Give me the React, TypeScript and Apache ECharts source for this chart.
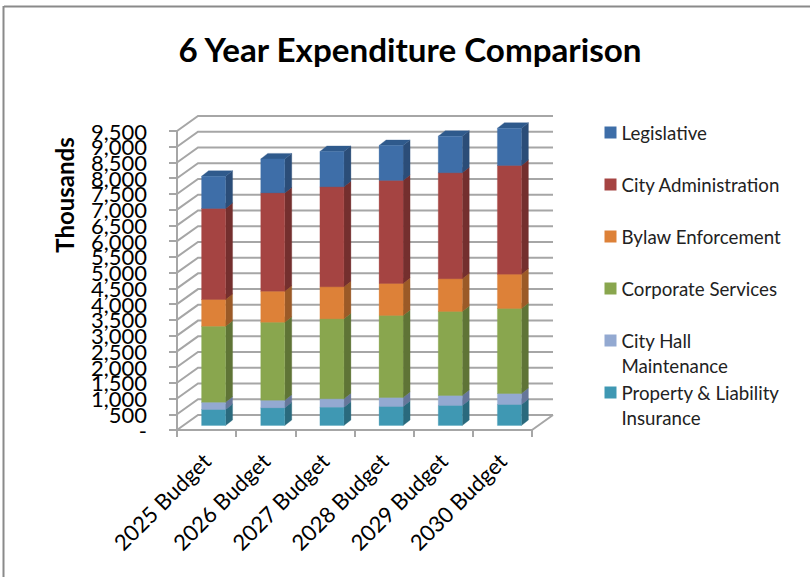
import React, { useEffect, useRef } from "react";
import * as echarts from "echarts";

const categories = ["2025 Budget", "2026 Budget", "2027 Budget", "2028 Budget", "2029 Budget", "2030 Budget"];
const insurance = [508, 560, 583, 604, 636, 667];
const maintenance = [232, 243, 265, 286, 318, 350];
const corporate = [2415, 2478, 2542, 2606, 2669, 2701];
const bylaw = [848, 985, 1017, 1017, 1038, 1091];
const cityAdmin = [2892, 3125, 3178, 3273, 3368, 3453];
const legislative = [1026, 1080, 1123, 1112, 1165, 1186];
const yTicks = [0, 500, 1000, 1500, 2000, 2500, 3000, 3500, 4000, 4500, 5000, 5500, 6000, 6500, 7000, 7500, 8000, 8500, 9000, 9500];
const yTickLabels = ["-", "500", "1,000", "1,500", "2,000", "2,500", "3,000", "3,500", "4,000", "4,500", "5,000", "5,500", "6,000", "6,500", "7,000", "7,500", "8,000", "8,500", "9,000", "9,500"];

const stackOrder = [
  { name: "Property & Liability Insurance", values: insurance, front: "#3f98b3", side: "#2a6a7d", top: "#35809a" },
  { name: "City Hall Maintenance", values: maintenance, front: "#93a9d1", side: "#66769a", top: "#7d90b5" },
  { name: "Corporate Services", values: corporate, front: "#89a64e", side: "#5f7436", top: "#76904a" },
  { name: "Bylaw Enforcement", values: bylaw, front: "#dd8138", side: "#9b5a27", top: "#c07030" },
  { name: "City Administration", values: cityAdmin, front: "#a54442", side: "#742f2e", top: "#8e3a38" },
  { name: "Legislative", values: legislative, front: "#3e6ea8", side: "#2b4d78", top: "#2f5a8c" },
];

const FONT = "Lato";
const GRID = "#a6a6a6";
const DEPTH_X = 21;
const DEPTH_Y = 15;
const BAR_W = 24;
const SIDE_X = 7;
const SIDE_Y = 5.5;

function buildSeries() {
  const running = categories.map(() => 0);
  const bars = stackOrder.map((s) => {
    const data = s.values.map((v, i) => {
      const base = running[i];
      running[i] += v;
      return [i, base, running[i]];
    });
    return {
      type: "custom",
      name: s.name,
      yAxisIndex: 0,
      itemStyle: { color: s.front },
      encode: { x: 0, y: [1, 2] },
      silent: true,
      data,
      renderItem: (_p: any, api: any) => {
        const i = api.value(0);
        const b = api.coord([i, api.value(1)]);
        const t = api.coord([i, api.value(2)]);
        const x0 = b[0] + SIDE_X - BAR_W / 2;
        const x1 = x0 + BAR_W;
        const yb = b[1] - 4.5;
        const yt = t[1] - 4.5;
        const poly = (points: number[][], fill: string) => ({
          type: "polygon",
          shape: { points },
          style: { fill, stroke: fill, lineWidth: 0.3 },
        });
        return {
          type: "group",
          children: [
            poly([[x1, yb], [x1 + SIDE_X, yb - SIDE_Y], [x1 + SIDE_X, yt - SIDE_Y], [x1, yt]], s.side),
            poly([[x0, yt], [x1, yt], [x1 + SIDE_X, yt - SIDE_Y], [x0 + SIDE_X, yt - SIDE_Y]], s.top),
            poly([[x0, yb], [x1, yb], [x1, yt], [x0, yt]], s.front),
          ],
        };
      },
    };
  });
  const walls = {
    type: "custom",
    name: "walls",
    yAxisIndex: 0,
    silent: true,
    encode: { x: 0, y: 1 },
    data: yTicks.map((v) => [0, v]),
    renderItem: (_p: any, api: any) => {
      const v = api.value(1);
      const size = api.size([1, 0])[0];
      const l = api.coord([0, v]);
      const r = api.coord([categories.length - 1, v]);
      const x0 = l[0] - size / 2;
      const x1 = r[0] + size / 2;
      const style = { stroke: GRID, lineWidth: 2, fill: "none" };
      const children: any[] = [
        {
          type: "polyline",
          shape: { points: [[x0, l[1]], [x0 + DEPTH_X, l[1] - DEPTH_Y], [x1 + DEPTH_X, l[1] - DEPTH_Y]] },
          style,
        },
      ];
      if (v === 0) {
        children.push({
          type: "line",
          shape: { x1: x1, y1: l[1], x2: x1 + DEPTH_X, y2: l[1] - DEPTH_Y },
          style,
        });
      }
      return { type: "group", children };
    },
  };
  return [walls, ...bars];
}

const legendStyle = { fontFamily: FONT, fontSize: 18.7, color: "#222222", lineHeight: 25 };

export default function App() {
  const ref = useRef<HTMLDivElement>(null);
  useEffect(() => {
    document.body.style.margin = "0";
    const chart = echarts.init(ref.current!, undefined, { renderer: "svg" });
    chart.setOption({
      animation: false,
      backgroundColor: "#ffffff",
      title: {
        text: "6 Year Expenditure Comparison",
        left: 405,
        top: 27,
        textAlign: "center",
        textStyle: { fontFamily: FONT, fontWeight: "bold", fontSize: 33.2, color: "#000000" },
      },
      grid: { left: 177, top: 131, width: 355, height: 299, containLabel: false },
      xAxis: {
        type: "category",
        data: categories,
        axisLine: { lineStyle: { color: GRID, width: 2 } },
        axisTick: { show: true, length: 7, lineStyle: { color: GRID, width: 2 } },
        axisLabel: { rotate: 45, interval: 0, margin: 27, fontFamily: FONT, fontSize: 22, color: "#000000" },
      },
      yAxis: [
        {
          type: "value",
          position: "left",
          min: 0,
          max: 9500,
          interval: 500,
          axisLine: { show: true, lineStyle: { color: GRID, width: 2 } },
          axisTick: { show: true, length: 8, lineStyle: { color: GRID, width: 2 } },
          splitLine: { show: false },
          axisLabel: { show: false },
        },
        {
          type: "category",
          position: "left",
          offset: 0,
          boundaryGap: false,
          data: yTickLabels,
          axisLine: { show: false },
          axisTick: { show: false },
          splitLine: { show: false },
          axisLabel: {
            interval: 0,
            margin: 30,
            fontFamily: FONT,
            fontSize: 22,
            color: "#000000",
            padding: [6, 0, 0, 0],
          },
        },
      ],
      legend: [
        {
          left: 604.5,
          top: 120,
          padding: 0,
          orient: "vertical",
          icon: "rect",
          itemWidth: 12,
          itemHeight: 12,
          itemGap: 27,
          selectedMode: false,
          textStyle: legendStyle,
          data: ["Legislative", "City Administration", "Bylaw Enforcement", "Corporate Services"],
        },
        {
          left: 604.5,
          top: 303,
          padding: 0,
          orient: "vertical",
          icon: "rect",
          itemWidth: 12,
          itemHeight: 12,
          itemGap: -23,
          selectedMode: false,
          textStyle: legendStyle,
          data: ["City Hall Maintenance", "Property & Liability Insurance"],
          formatter: (name: string) =>
            name === "City Hall Maintenance" ? " \nCity Hall\nMaintenance" : " \nProperty & Liability\nInsurance",
        },
      ],
      graphic: [
        { type: "line", shape: { x1: 4, y1: 6.5, x2: 810, y2: 6.5 }, style: { stroke: "#8a8a8a", lineWidth: 2 } },
        { type: "line", shape: { x1: 3.5, y1: 6, x2: 3.5, y2: 577 }, style: { stroke: "#8a8a8a", lineWidth: 2 } },
        {
          type: "text",
          x: 64,
          y: 195,
          rotation: Math.PI / 2,
          style: {
            text: "Thousands",
            fontFamily: FONT,
            fontWeight: "bold",
            fontSize: 24,
            fill: "#000000",
            align: "center",
            verticalAlign: "middle",
          },
        },
      ],
      series: buildSeries(),
    });
    return () => chart.dispose();
  }, []);
  return <div ref={ref} style={{ width: 810, height: 577 }} />;
}
